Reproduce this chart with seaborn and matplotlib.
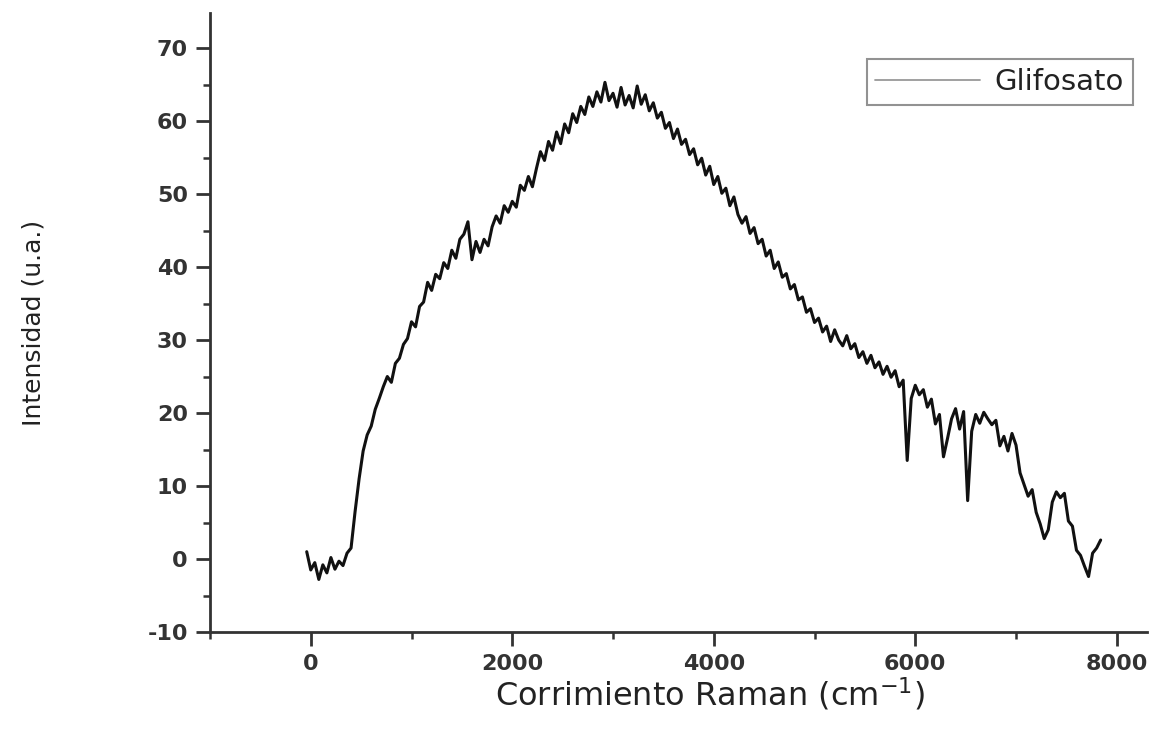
import matplotlib
matplotlib.use("Agg")
import matplotlib.pyplot as plt
from matplotlib.lines import Line2D
from matplotlib.ticker import MultipleLocator
import seaborn as sns
import pandas as pd

# Raman shift (cm^-1)
shift = [
    -40, 0, 40, 80, 120, 160, 200, 240, 280, 320,
    360, 400, 440, 480, 520, 560, 600, 640, 680, 720,
    760, 800, 840, 880, 920, 960, 1000, 1040, 1080, 1120,
    1160, 1200, 1240, 1280, 1320, 1360, 1400, 1440, 1480, 1520,
    1560, 1600, 1640, 1680, 1720, 1760, 1800, 1840, 1880, 1920,
    1960, 2000, 2040, 2080, 2120, 2160, 2200, 2240, 2280, 2320,
    2360, 2400, 2440, 2480, 2520, 2560, 2600, 2640, 2680, 2720,
    2760, 2800, 2840, 2880, 2920, 2960, 3000, 3040, 3080, 3120,
    3160, 3200, 3240, 3280, 3320, 3360, 3400, 3440, 3480, 3520,
    3560, 3600, 3640, 3680, 3720, 3760, 3800, 3840, 3880, 3920,
    3960, 4000, 4040, 4080, 4120, 4160, 4200, 4240, 4280, 4320,
    4360, 4400, 4440, 4480, 4520, 4560, 4600, 4640, 4680, 4720,
    4760, 4800, 4840, 4880, 4920, 4960, 5000, 5040, 5080, 5120,
    5160, 5200, 5240, 5280, 5320, 5360, 5400, 5440, 5480, 5520,
    5560, 5600, 5640, 5680, 5720, 5760, 5800, 5840, 5880, 5920,
    5960, 6000, 6040, 6080, 6120, 6160, 6200, 6240, 6280, 6320,
    6360, 6400, 6440, 6480, 6520, 6560, 6600, 6640, 6680, 6720,
    6760, 6800, 6840, 6880, 6920, 6960, 7000, 7040, 7080, 7120,
    7160, 7200, 7240, 7280, 7320, 7360, 7400, 7440, 7480, 7520,
    7560, 7600, 7640, 7680, 7720, 7760, 7800, 7840,
]

# Intensity (a.u.)
intensity = [
    1.0, -1.5, -0.5, -2.8, -0.8, -1.9, 0.2, -1.4, -0.3, -0.9,
    0.8, 1.5, 6.5, 11.0, 14.8, 17.0, 18.2, 20.5, 22.0, 23.6,
    25.0, 24.2, 26.8, 27.5, 29.4, 30.2, 32.5, 31.8, 34.6, 35.2,
    37.9, 36.8, 39.0, 38.4, 40.6, 39.8, 42.3, 41.2, 43.8, 44.5,
    46.2, 41.0, 43.5, 42.0, 43.8, 42.9, 45.5, 47.0, 46.0, 48.4,
    47.5, 49.0, 48.2, 51.2, 50.5, 52.4, 51.0, 53.5, 55.8, 54.6,
    57.2, 56.0, 58.5, 56.9, 59.6, 58.4, 61.0, 59.8, 62.0, 60.9,
    63.3, 62.0, 64.0, 62.6, 65.3, 62.8, 63.8, 61.9, 64.6, 62.2,
    63.5, 61.8, 64.8, 62.3, 63.6, 61.4, 62.5, 60.4, 61.2, 59.0,
    59.8, 57.6, 58.9, 56.8, 57.5, 55.4, 56.2, 54.0, 54.9, 52.6,
    53.8, 51.3, 52.4, 50.1, 50.8, 48.4, 49.6, 47.2, 46.0, 46.9,
    44.6, 45.4, 43.2, 43.8, 41.5, 42.3, 39.8, 40.7, 38.6, 39.1,
    37.0, 37.6, 35.5, 35.9, 33.8, 34.3, 32.4, 33.0, 31.1, 31.9,
    29.8, 31.4, 30.0, 29.2, 30.6, 28.8, 29.5, 27.6, 28.4, 26.8,
    27.9, 26.2, 27.0, 25.3, 26.4, 24.9, 25.8, 23.6, 24.5, 13.5,
    22.0, 23.8, 22.5, 23.2, 20.8, 21.9, 18.5, 19.8, 14.0, 16.5,
    19.2, 20.6, 17.8, 20.2, 8.0, 17.5, 19.8, 18.6, 20.1, 19.2,
    18.4, 19.0, 15.5, 16.8, 14.8, 17.2, 15.6, 11.8, 10.2, 8.6,
    9.5, 6.4, 4.8, 2.8, 4.0, 7.8, 9.2, 8.4, 9.0, 5.2,
    4.5, 1.2, 0.5, -1.0, -2.4, 0.8, 1.5, 2.6,
]

series_label = "Glifosato"
x_ticks = [0, 2000, 4000, 6000, 8000]
y_ticks = [-10, 0, 10, 20, 30, 40, 50, 60, 70]

df = pd.DataFrame({"shift": shift, "intensity": intensity})

sns.set_style("ticks")
plt.rcParams["font.family"] = ["DejaVu Sans"]
plt.rcParams["mathtext.fontset"] = "dejavusans"
plt.rcParams["axes.unicode_minus"] = False

W, H = 1155, 729
fig = plt.figure(figsize=(W / 100, H / 100), dpi=100)
ax = fig.add_axes([210 / W, 1 - 632 / H, (1147 - 210) / W, (632 - 13) / H])

sns.lineplot(data=df, x="shift", y="intensity", ax=ax, color="#111111",
             linewidth=2.2, legend=False)

ax.set_xlim(-1000, 8300)
ax.set_ylim(-10, 74.8)
ax.set_xticks(x_ticks)
ax.set_yticks(y_ticks)
ax.xaxis.set_minor_locator(MultipleLocator(1000))
ax.yaxis.set_minor_locator(MultipleLocator(5))

sns.despine(ax=ax)
for s in ["left", "bottom"]:
    ax.spines[s].set_linewidth(2.0)
    ax.spines[s].set_color("#333333")

ax.tick_params(axis="both", which="major", direction="out", length=10,
               width=2.0, color="#333333", labelsize=16,
               labelcolor="#333333", pad=6)
ax.tick_params(axis="both", which="minor", direction="out", length=5,
               width=1.8, color="#333333")
for lab in ax.get_xticklabels() + ax.get_yticklabels():
    lab.set_fontweight("bold")

ax.set_xlabel("Corrimiento Raman (cm$^{-1}$)", fontsize=23, color="#222222")
ax.set_ylabel("Intensidad (u.a.)", fontsize=18, color="#222222")
ax.xaxis.set_label_coords((710 - 210) / 937, -(676 - 632) / 619)
ax.yaxis.set_label_coords((46 - 210) / 937, 0.5)

handle = Line2D([], [], color="#999999", linewidth=1.3)
leg = ax.legend([handle], [series_label], loc="upper right",
                bbox_to_anchor=(1133 / W, 1 - 59 / H),
                bbox_transform=fig.transFigure, borderaxespad=0,
                fontsize=21, handlelength=3.6, handletextpad=0.5,
                borderpad=0.3, frameon=True, fancybox=False)
leg.get_frame().set_edgecolor("#777777")
leg.get_frame().set_linewidth(1.5)
for t in leg.get_texts():
    t.set_color("#222222")

fig.savefig("out.png", dpi=100)
